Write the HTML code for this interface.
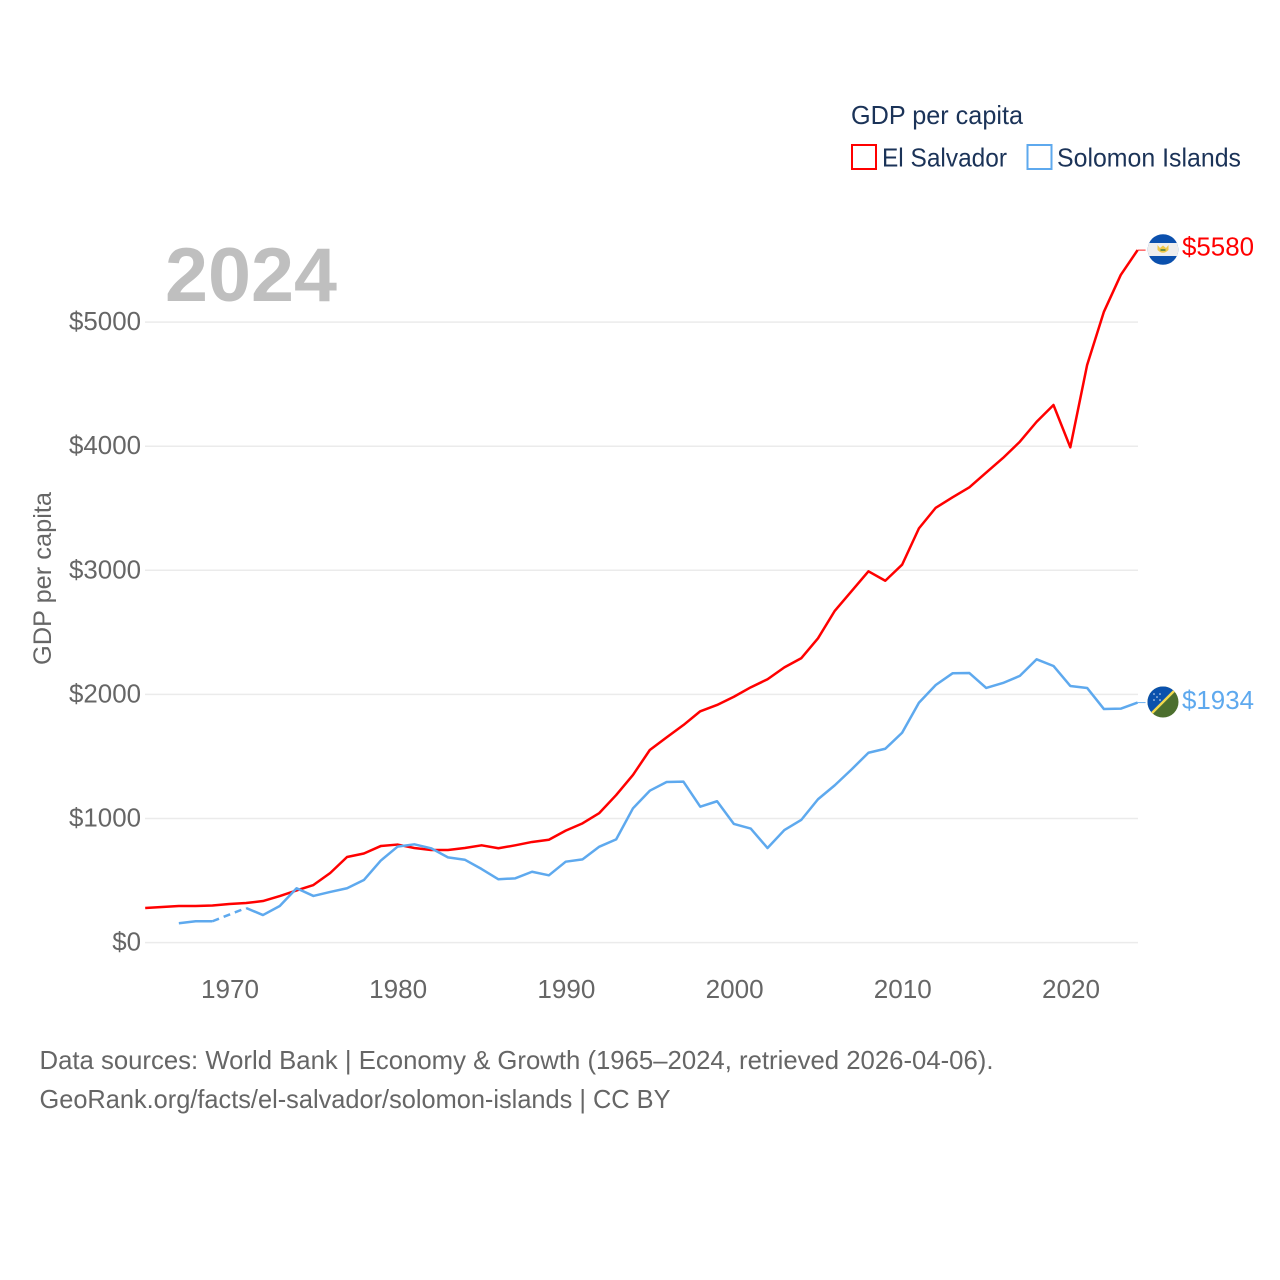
<!DOCTYPE html>
<html lang="en">
<head>
<meta charset="utf-8">
<title>GDP per capita: El Salvador and Solomon Islands</title>
<style>
html,body{margin:0;padding:0;background:#fff;width:1280px;height:1280px;overflow:hidden}
svg{display:block}
text{font-family:"Liberation Sans",sans-serif}
</style>
</head>
<body>
<svg id="chart" xmlns="http://www.w3.org/2000/svg" width="1280" height="1280" viewBox="0 0 1280 1280">
  <rect width="1280" height="1280" fill="#fff"/>
  <g id="grid"></g>
  <g id="yticks"></g>
  <g id="xticks"></g>

  <text x="165" y="301" font-size="76" font-weight="700" fill="#bfbfbf" textLength="172" lengthAdjust="spacingAndGlyphs">2024</text>
  <text transform="translate(51,665) rotate(-90)" font-size="25" fill="#666" textLength="173" lengthAdjust="spacingAndGlyphs">GDP per capita</text>

  <g>
    <text x="851" y="124" font-size="26" fill="#1b3358" textLength="172" lengthAdjust="spacingAndGlyphs">GDP per capita</text>
    <g>
      <rect x="852" y="145" width="24" height="24" fill="#fff" stroke="#ff0000" stroke-width="2"/>
      <text x="882" y="166.5" font-size="26" fill="#1b3358" textLength="125" lengthAdjust="spacingAndGlyphs">El Salvador</text>
    </g>
    <g>
      <rect x="1027.5" y="145" width="24" height="24" fill="#fff" stroke="#5ea9ee" stroke-width="2"/>
      <text x="1057" y="166.5" font-size="26" fill="#1b3358" textLength="184" lengthAdjust="spacingAndGlyphs">Solomon Islands</text>
    </g>
  </g>

  <g id="series"></g>

  <defs>
    <clipPath id="clip-sv"><circle cx="1163" cy="249.5" r="15.3"/></clipPath>
    <clipPath id="clip-sb"><circle cx="1163" cy="702" r="15.5"/></clipPath>
  </defs>
  <g clip-path="url(#clip-sv)">
    <rect x="1147" y="233" width="32" height="33" fill="#0b50ad"/>
    <rect x="1147" y="243" width="32" height="13" fill="#eeeeee"/>
    <path d="M1157.5 245 L1160 248 L1163 245.5 L1166 248 L1168.5 245 L1168.5 250 Q1163 255.5 1157.5 250 Z" fill="#f0c94a"/>
    <rect x="1160.5" y="249" width="5" height="2" fill="#6d8f3c"/>
  </g>
  <g clip-path="url(#clip-sb)">
    <rect x="1147" y="686" width="32" height="33" fill="#4c6f2e"/>
    <polygon points="1147,686 1179,686 1147,718" fill="#0a51ad"/>
    <line x1="1147" y1="718" x2="1179" y2="686" stroke="#f2d94e" stroke-width="2.5"/>
    <g fill="#dfe8f5">
      <circle cx="1154" cy="694" r="0.8"/><circle cx="1160" cy="694" r="0.8"/><circle cx="1157" cy="697" r="0.8"/><circle cx="1154" cy="700" r="0.8"/><circle cx="1160" cy="700" r="0.8"/>
    </g>
  </g>

  <text x="1182" y="255.5" font-size="26" fill="#ff0000" textLength="72" lengthAdjust="spacingAndGlyphs">$5580</text>
  <text x="1182" y="709" font-size="26" fill="#5ea9ee" textLength="72" lengthAdjust="spacingAndGlyphs">$1934</text>

  <text x="39.5" y="1069" font-size="26" fill="#666" textLength="954" lengthAdjust="spacingAndGlyphs">Data sources: World Bank | Economy &amp; Growth (1965–2024, retrieved 2026-04-06).</text>
  <text x="39.5" y="1108" font-size="26" fill="#666" textLength="631" lengthAdjust="spacingAndGlyphs">GeoRank.org/facts/el-salvador/solomon-islands | CC BY</text>
</svg>

<script>
const firstYear = 1965;
const elSalvadorGdp = [279,287,295,295,299,311,319,335,375,420,464,561,690,718,778,790,762,746,746,762,784,760,784,811,829,902,961,1044,1189,1351,1552,1654,1753,1864,1915,1981,2057,2122,2218,2291,2452,2674,2833,2992,2916,3045,3338,3504,3588,3669,3788,3905,4036,4197,4332,3991,4654,5084,5380,5580];
const solomonIslandsGdp = [null,null,156,172,172,null,279,222,295,438,376,408,438,504,660,773,792,760,687,668,593,510,518,571,542,652,671,773,832,1082,1224,1294,1297,1095,1139,956,919,762,907,988,1155,1268,1396,1530,1562,1691,1933,2076,2170,2172,2052,2092,2149,2283,2229,2068,2052,1882,1885,1934];
const yTickValues = [0,1000,2000,3000,4000,5000];
const yTickLabels = ['$0','$1000','$2000','$3000','$4000','$5000'];
const xTickYears = [1970,1980,1990,2000,2010,2020];

const NS = 'http://www.w3.org/2000/svg';
function xScale(year){ return 229.3 + (year - 1970) * 16.82; }
function yScale(value){ return 942.6 - value * 0.1241; }
function make(tag, parent, attrs){
  const el = document.createElementNS(NS, tag);
  for (const k in attrs) el.setAttribute(k, attrs[k]);
  parent.appendChild(el);
  return el;
}

const grid = document.getElementById('grid');
const yticks = document.getElementById('yticks');
const xticks = document.getElementById('xticks');
const series = document.getElementById('series');

yTickValues.forEach(function(v, i){
  const line = make('line', grid, {x1:145, x2:1138, y1:yScale(v), y2:yScale(v), stroke:'#ebebeb', 'stroke-width':1.5});
  
  
  const label = make('text', yticks, {x:69 + (5 - yTickLabels[i].length) * 14.4, y:yScale(v) + 8, 'font-size':26, fill:'#666', textLength:yTickLabels[i].length * 14.4, lengthAdjust:'spacingAndGlyphs'});
  
  
  label.textContent = yTickLabels[i];
});

xTickYears.forEach(function(year){
  const label = make('text', xticks, {x:xScale(year) - 28.3, y:998, 'font-size':26, fill:'#666', textLength:58, lengthAdjust:'spacingAndGlyphs'});
  
  
  label.textContent = String(year);
});

function drawSeries(values, color, name){
  const group = make('g', series, {});
  
  
  let run = [];
  let prev = null;
  function flush(){
    if (run.length > 1){
      const solid = make('polyline', group, {points:run.join(' '), fill:'none', stroke:color, 'stroke-width':2.5, 'stroke-linejoin':'round'});
      
      
    }
    run = [];
  }
  values.forEach(function(v, i){
    const year = firstYear + i;
    if (v === null){ flush(); return; }
    const pt = xScale(year) + ',' + yScale(v);
    if (prev && i - prev.i > 1){
      const gap = make('line', group, {x1:xScale(firstYear + prev.i), y1:yScale(prev.v), x2:xScale(year), y2:yScale(v), stroke:color, 'stroke-width':2.5, 'stroke-dasharray':'7 5'});
      
      
    }
    run.push(pt);
    prev = {i:i, v:v};
  });
  flush();
  const lastX = xScale(firstYear + values.length - 1);
  const lastY = yScale(values[values.length - 1]);
  const stub = make('line', group, {x1:lastX, x2:lastX + 8, y1:lastY, y2:lastY, stroke:color, 'stroke-width':1, opacity:0.9});
  
  
}

drawSeries(elSalvadorGdp, '#ff0000', 'el-salvador');
drawSeries(solomonIslandsGdp, '#5ea9ee', 'solomon-islands');
</script>
</body>
</html>
